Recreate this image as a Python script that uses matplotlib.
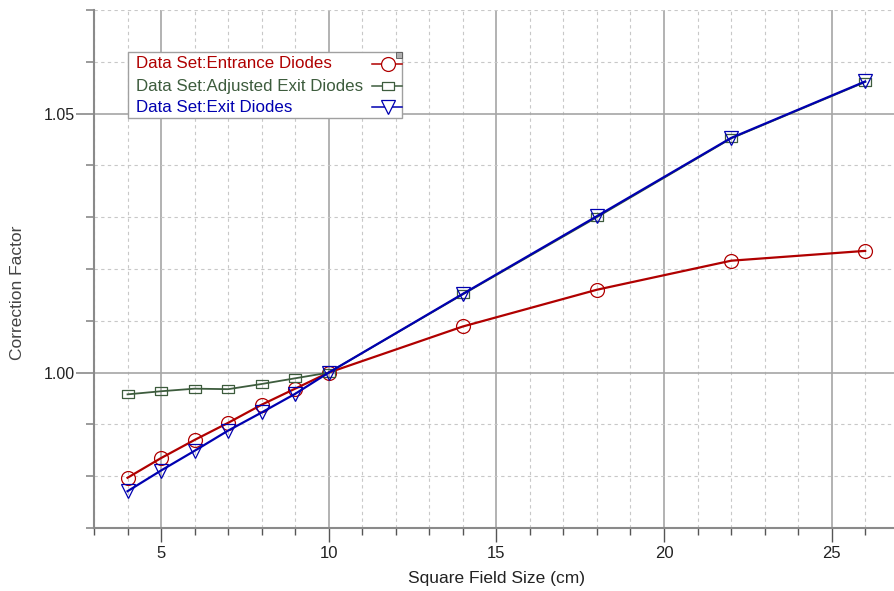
import numpy as np
import matplotlib.pyplot as plt
from matplotlib.ticker import MultipleLocator, FormatStrFormatter
from matplotlib.patches import Rectangle

# field sizes (cm)
field_size = [4, 5, 6, 7, 8, 9, 10, 14, 18, 22, 26]

entrance = [0.9797, 0.9835, 0.9870, 0.9903, 0.9938, 0.9969, 1.0000,
            1.0089, 1.0160, 1.0216, 1.0235]
adjusted_exit = [0.9958, 0.9964, 0.9969, 0.9968, 0.9978, 0.9989, 1.0000,
                 1.0151, 1.0300, 1.0452, 1.0561]
exit_diodes = [0.9771, 0.9811, 0.9849, 0.9888, 0.9923, 0.9959, 1.0000,
               1.0152, 1.0302, 1.0453, 1.0562]

labels = ["Data Set:Entrance Diodes", "Data Set:Adjusted Exit Diodes",
          "Data Set:Exit Diodes"]

W, H = 894, 591


def main():
    plt.rcParams['font.family'] = ['Liberation Sans', 'DejaVu Sans']
    fig = plt.figure(figsize=(W / 100, H / 100), dpi=100)
    ax = fig.add_axes([94 / W, 63 / H, 804.7 / W, 518 / H])

    red = "#b00000"
    green = "#3d5c3d"
    blue = "#0000b0"
    rect = [(-1.5, -1), (1.5, -1), (1.5, 1), (-1.5, 1), (-1.5, -1)]
    styles = [
        dict(color=red, lw=1.6, marker="o", ms=10, mec=red),
        dict(color=green, lw=1.3, marker=rect, ms=9, mec=green),
        dict(color=blue, lw=1.6, marker="v", ms=10, mec=blue),
    ]

    ax.plot(field_size, entrance, "-", mfc="none", mew=0.9, zorder=3, **styles[0])
    ax.plot(field_size, adjusted_exit, "-", mfc="none", mew=0.9, zorder=3, **styles[1])
    ax.plot(field_size, exit_diodes, "-", mfc="none", mew=0.9, zorder=4, **styles[2])

    ax.set_xlim(3, 27)
    ax.set_ylim(0.97, 1.07)
    ax.xaxis.set_major_locator(MultipleLocator(5))
    ax.xaxis.set_minor_locator(MultipleLocator(1))
    ax.yaxis.set_major_locator(MultipleLocator(0.05))
    ax.yaxis.set_minor_locator(MultipleLocator(0.01))
    ax.yaxis.set_major_formatter(FormatStrFormatter("%.2f"))

    ax.grid(which="major", color="#a6a6a6", lw=1.2, ls="-", zorder=0)
    ax.grid(which="minor", color="#c8c8c8", lw=0.8, ls=(0, (3, 3)), zorder=0)
    ax.set_axisbelow(True)

    for s in ["top", "right"]:
        ax.spines[s].set_visible(False)
    for s in ["left", "bottom"]:
        ax.spines[s].set_color("#8a8a8a")
        ax.spines[s].set_linewidth(1.5)

    ax.tick_params(axis="y", which="major", length=13, width=1.2,
                   color="#8a8a8a", labelsize=11.5, labelcolor="#222222", pad=1)
    ax.tick_params(axis="y", which="minor", length=6, width=1.2,
                   color="#8a8a8a")
    ax.tick_params(axis="x", which="major", length=10, width=1.0,
                   color="#555555", labelsize=12, labelcolor="#222222", pad=3)
    ax.tick_params(axis="x", which="minor", length=5, width=1.0,
                   color="#555555")

    ax.set_xlabel("Square Field Size (cm)", fontsize=12.5, labelpad=7,
                  color="#222222")
    ax.set_ylabel("Correction Factor", fontsize=12.5, color="#444444")
    ax.yaxis.set_label_coords(-0.0857, 0.454)

    # legend box drawn in figure pixel coordinates
    def fx(px):
        return px / W

    def fy(py):
        return 1 - py / H

    fig.patches.append(Rectangle((fx(128), fy(118)), fx(402) - fx(128),
                                 fy(52) - fy(118), transform=fig.transFigure,
                                 facecolor="white", edgecolor="#a0a0a0",
                                 lw=1.0, zorder=5))
    row_y = [64, 86, 107]
    for lab, st, yy in zip(labels, styles, row_y):
        fig.text(fx(136), fy(yy), lab, color=st["color"], fontsize=12.2,
                 ha="left", va="center", zorder=6)
        fig.add_artist(plt.Line2D([fx(372), fx(402)], [fy(yy), fy(yy)],
                                  transform=fig.transFigure, color=st["color"],
                                  lw=1.1, zorder=6))
        fig.add_artist(plt.Line2D([fx(388)], [fy(yy)], transform=fig.transFigure,
                                  marker=st["marker"], ms=st["ms"], mfc="white",
                                  mec=st["color"], mew=0.9, ls="none", zorder=7))
    fig.add_artist(plt.Line2D([fx(399)], [fy(55)], transform=fig.transFigure,
                              marker="s", ms=5, mfc="#b0b0b0", mec="#555555",
                              mew=0.6, ls="none", zorder=8))

    fig.savefig("out.png", dpi=100)


if __name__ == "__main__":
    main()
